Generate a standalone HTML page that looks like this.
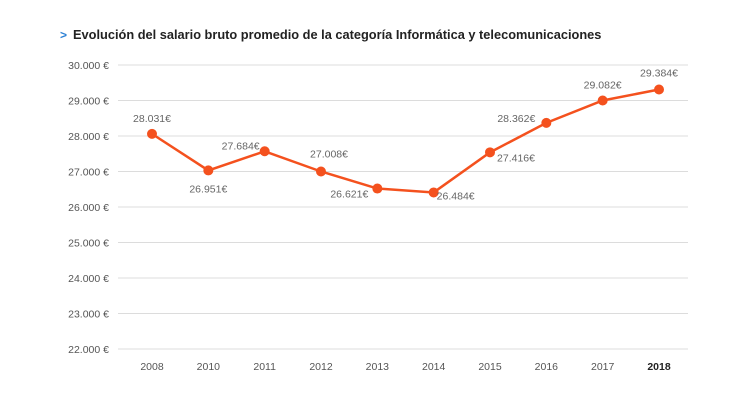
<!DOCTYPE html>
<html><head><meta charset="utf-8">
<style>
body{margin:0;background:#fff;font-family:"Liberation Sans",sans-serif;}
#wrap{position:relative;width:750px;height:400px;overflow:hidden;}
</style></head>
<body>
<div id="wrap">
<svg id="chart" width="750" height="400">
  <text x="60" y="39" font-size="12" font-weight="bold" fill="#2a7fd4">&gt;</text>
  <text x="73" y="39" font-size="12.8" font-weight="bold" fill="#222">Evolución del salario bruto promedio de la categoría Informática y telecomunicaciones</text>
  <g id="grid"></g><g id="xaxis"></g><g id="series"></g>
</svg>
</div>
<script>
const categories=["2008","2010","2011","2012","2013","2014","2015","2016","2017","2018"];
const salaries=[28060,27030,27570,27000,26520,26410,27540,28370,29000,29310];
const valueLabels=["28.031€","26.951€","27.684€","27.008€","26.621€","26.484€","27.416€","28.362€","29.082€","29.384€"];
const yTicks=[22000,23000,24000,25000,26000,27000,28000,29000,30000];
const yTickLabels=["22.000 €","23.000 €","24.000 €","25.000 €","26.000 €","27.000 €","28.000 €","29.000 €","30.000 €"];
// label placement offsets (layout, not data)
const lblDx=[0,0,-24,8,-28,22,26,-30,0,0];
const lblDy=[-12,22,-2,-14,9,7,9,-1,-12,-13];
const NS="http://www.w3.org/2000/svg";
const y=v=>349-(v-22000)*(349-65)/8000;
const x=i=>152+i*(659-152)/(categories.length-1);
function mk(t,a,p){const e=document.createElementNS(NS,t);for(const k in a)e.setAttribute(k,a[k]);p.appendChild(e);return e;}
const grid=document.getElementById('grid'),xa=document.getElementById('xaxis'),se=document.getElementById('series');
yTicks.forEach((v,i)=>{
  const l=mk('line',{x1:118,x2:688,y1:y(v),y2:y(v),stroke:'#dcdcdc','stroke-width':1},grid);
  
  
  const t=mk('text',{x:109,y:y(v)+4,'text-anchor':'end','font-size':10.5,fill:'#555'},grid);
  t.textContent=yTickLabels[i];
  
  
});
categories.forEach((c,i)=>{
  const t=mk('text',{x:x(i),y:370,'text-anchor':'middle','font-size':10.5,fill:i==categories.length-1?'#222':'#555','font-weight':i==categories.length-1?'bold':'normal'},xa);
  t.textContent=c;
  
  
});
const pl=mk('polyline',{points:salaries.map((v,i)=>x(i)+','+y(v)).join(' '),fill:'none',stroke:'#f4511e','stroke-width':2.5},se);


salaries.forEach((v,i)=>{
  const c=mk('circle',{cx:x(i),cy:y(v),r:5,fill:'#f4511e'},se);
  
  
  const t=mk('text',{x:x(i)+lblDx[i],y:y(v)+lblDy[i],'text-anchor':'middle','font-size':10.5,fill:'#666'},se);
  t.textContent=valueLabels[i];
  
  
});
</script>
</body></html>
